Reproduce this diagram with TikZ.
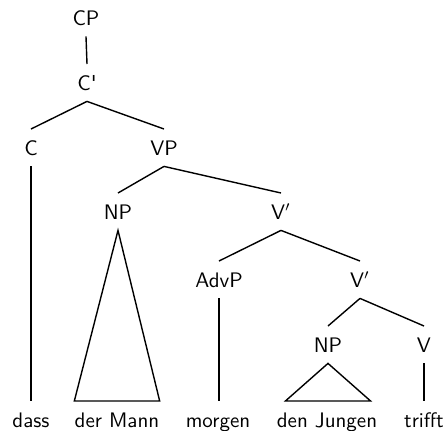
\documentclass[tikz,border=0pt]{standalone}
\usepackage{fontspec}
\begin{document}
\begin{tikzpicture}[x=0.5pt,y=-0.5pt,
  every node/.style={font=\sffamily\fontsize{10.5}{12}\selectfont, inner xsep=0pt, inner ysep=5.5pt, anchor=base, text height=7.3pt, text depth=0pt},
  edge/.style={line width=0.7pt}]
\useasboundingbox (0,0) rectangle (446,430);
% categories
\node (cp) at (86,25) {CP};
\node (c1) at (87,90) {C\textquotesingle};
\node (c) at (31,155) {C};
\node (vp) at (164,155) {VP};
\node (np1) at (118,219) {NP};
\node (v1) at (281,219) {V$'$};
\node (advp) at (219,287) {AdvP};
\node (v2) at (360,287) {V$'$};
\node (np2) at (328,352) {NP};
\node (v) at (424,352) {V};
% words
\node (w1) at (31,427) {dass};
\node (w2) at (117,427) {der Mann};
\node (w3) at (218,427) {morgen};
\node (w4) at (327,427) {den Jungen};
\node (w5) at (424,427) {trifft};
% edges
\draw[edge] (cp.south) -- (c1.north);
\draw[edge] (c1.south) -- (c.north);
\draw[edge] (c1.south) -- (vp.north);
\draw[edge] (vp.south) -- (np1.north);
\draw[edge] (vp.south) -- (v1.north);
\draw[edge] (v1.south) -- (advp.north);
\draw[edge] (v1.south) -- (v2.north);
\draw[edge] (v2.south) -- (np2.north);
\draw[edge] (v2.south) -- (v.north);
\draw[edge] (c.south) -- (c.south |- w1.north);
\draw[edge] (advp.south) -- (advp.south |- w3.north);
\draw[edge] (v.south) -- (v.south |- w5.north);
\draw[edge, line join=miter] (np1.south) -- (w2.north west) -- (w2.north east) -- cycle;
\draw[edge, line join=miter] (np2.south) -- ([xshift=4.5pt]w4.north west) -- ([xshift=-3.5pt]w4.north east) -- cycle;
\end{tikzpicture}
\end{document}
